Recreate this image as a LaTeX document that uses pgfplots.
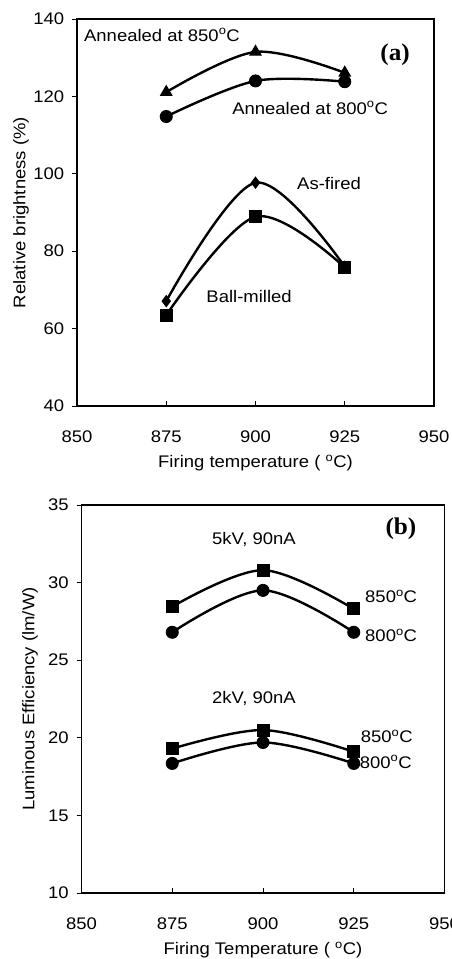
\documentclass[border=0pt]{standalone}
\usepackage{fontspec}
\setmainfont{Liberation Sans}[FakeStretch=1.1]
\newfontfamily\labfont{Liberation Serif}[FakeStretch=1.05]
\usepackage{pgfplots}
\pgfplotsset{compat=1.18}

\newcommand\fs{\fontsize{16.8pt}{20pt}\selectfont}
\newcommand\dg{\textsuperscript{o}C}

\pgfplotsset{
  panel/.style={
    scale only axis,
    xmin=850, xmax=950,
    xtick={850,875,900,925,950},
    xtick pos=bottom, ytick pos=left,
    tick align=inside,
    major tick length=5pt,
    ytick style={xshift=-5pt},
    axis line style={line width=1.1pt},
    every tick/.style={black, line width=0.8pt},
    /pgf/number format/assume math mode=true,
    /pgf/number format/1000 sep={},
    yticklabel style={xshift=-7pt},
    xticklabel style={yshift=-19pt},
    xlabel style={at={(rel axis cs:0.5,0)}, anchor=center, yshift=-57pt},
    ylabel style={at={(rel axis cs:0,0.5)}, anchor=center},
  },
  crv/.style={black, line width=2.4pt, smooth, tension=0.55, mark options={solid, fill=black, line width=1pt}},
}

\begin{document}
\fs
\begin{tikzpicture}
\path[use as bounding box, clip] (0,0) rectangle (451pt,-959pt);

% (a) relative brightness
\begin{axis}[panel,
  at={(77pt,-406pt)}, anchor=south west,
  width=357pt, height=387pt,
  ymin=40, ymax=140, ytick={40,60,...,140},
  xlabel={Firing temperature ( \dg)},
  ylabel={Relative brightness (\%)},
  ylabel style={yshift=56pt},
]
\addplot[crv, mark=triangle*, mark size=6.5pt] coordinates {(875,121.1) (900,131.5) (925,126.1)};
\addplot[crv, mark=*, mark size=6pt] coordinates {(875,114.8) (900,124.0) (925,123.8)};
\addplot[crv, mark=diamond*, mark size=5.5pt] coordinates {(875,67.1) (900,97.7) (925,76.0)};
\addplot[crv, mark=square*, mark size=6pt] coordinates {(875,63.5) (900,88.9) (925,75.8)};
\node at (axis cs:873.8,135.9) {Annealed at 850\dg};
\node at (axis cs:915.3,117) {Annealed at 800\dg};
\node at (axis cs:920.6,97.6) {As-fired};
\node at (axis cs:898.2,68.4) {Ball-milled};
\node at (axis cs:939.1,130.7) {\fontsize{24pt}{28pt}\labfont\bfseries (a)};
\end{axis}

% (b) luminous efficiency
\begin{axis}[panel,
  at={(81.5pt,-893pt)}, anchor=south west,
  width=363pt, height=388pt,
  ymin=10, ymax=35, ytick={10,15,...,35},
  xlabel={Firing Temperature ( \dg)},
  ylabel={Luminous Efficiency (lm/W)},
  ylabel style={yshift=51.5pt},
]
\addplot[crv, mark=square*, mark size=6pt] coordinates {(875,28.45) (900,30.8) (925,28.3)};
\addplot[crv, mark=*, mark size=6pt] coordinates {(875,26.8) (900,29.5) (925,26.8)};
\addplot[crv, mark=square*, mark size=6pt] coordinates {(875,19.3) (900,20.5) (925,19.1)};
\addplot[crv, mark=*, mark size=6pt] coordinates {(875,18.35) (900,19.7) (925,18.35)};
\node at (axis cs:938,33.5) {\fontsize{24pt}{28pt}\labfont\bfseries (b)};
\node at (axis cs:897.5,32.75) {5kV, 90nA};
\node at (axis cs:935.3,29.1) {850\dg};
\node at (axis cs:935.3,26.6) {800\dg};
\node at (axis cs:897.5,22.55) {2kV, 90nA};
\node at (axis cs:934.1,20.1) {850\dg};
\node at (axis cs:933.8,18.45) {800\dg};
\end{axis}
\end{tikzpicture}
\end{document}
